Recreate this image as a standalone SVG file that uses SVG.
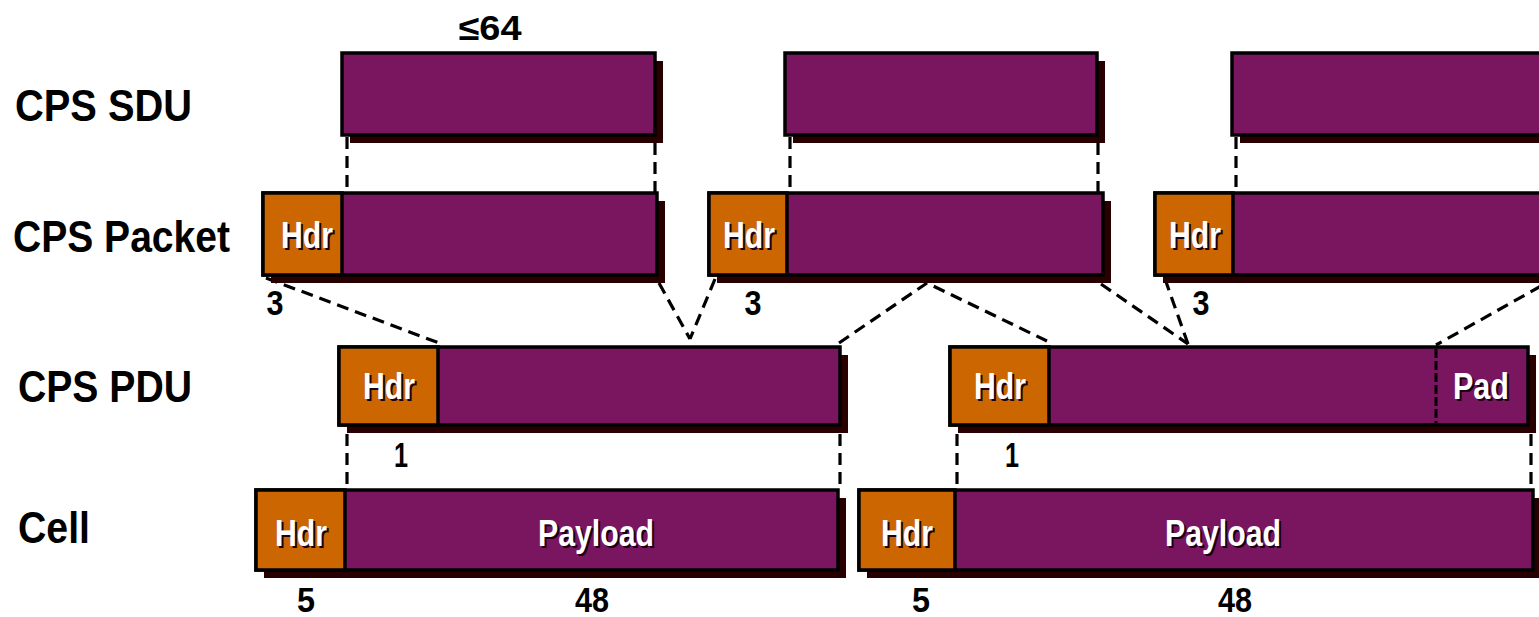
<svg xmlns="http://www.w3.org/2000/svg" width="1539" height="617" viewBox="0 0 1539 617">
<style>
.bg{fill:#ffffff}
.sh{fill:#280000}
.pl{fill:#7a1660;stroke:#000;stroke-width:3.5}
.hd{fill:#cc6600;stroke:#000;stroke-width:3.5}
.dl{fill:none;stroke:#000;stroke-width:3.2;stroke-dasharray:12 7}
.lbl{font-family:"Liberation Sans",Arial,sans-serif;font-weight:bold;font-size:45px;fill:#000}
.num{font-family:"Liberation Sans",Arial,sans-serif;font-weight:bold;font-size:35px;fill:#000;text-anchor:middle}
.in{font-family:"Liberation Sans",Arial,sans-serif;font-weight:bold;font-size:37px;fill:#fff;text-anchor:middle}
.ins{font-family:"Liberation Sans",Arial,sans-serif;font-weight:bold;font-size:37px;fill:#1a0010;text-anchor:middle}
</style>
<rect class="bg" x="0" y="0" width="1539" height="617"/>

<g id="labels">
<text class="lbl" x="15" y="121" textLength="177" lengthAdjust="spacingAndGlyphs">CPS SDU</text>
<text class="lbl" x="13" y="252" textLength="217" lengthAdjust="spacingAndGlyphs">CPS Packet</text>
<text class="lbl" x="18" y="402" textLength="174" lengthAdjust="spacingAndGlyphs">CPS PDU</text>
<text class="lbl" x="18" y="543" textLength="72" lengthAdjust="spacingAndGlyphs">Cell</text>
<text class="num" x="490" y="40" textLength="63" lengthAdjust="spacingAndGlyphs">≤64</text>
</g>

<g id="connectors">
<line class="dl" x1="347" y1="137" x2="347" y2="193"/>
<line class="dl" x1="655" y1="143" x2="655" y2="193"/>
<line class="dl" x1="790" y1="137" x2="790" y2="193"/>
<line class="dl" x1="1098" y1="143" x2="1098" y2="193"/>
<line class="dl" x1="1236" y1="137" x2="1236" y2="193"/>
<line class="dl" x1="266" y1="278" x2="439" y2="343"/>
<line class="dl" x1="659" y1="283" x2="690" y2="339"/>
<line class="dl" x1="715" y1="279" x2="690" y2="339"/>
<polyline class="dl" points="839,343 927,283 1047,341"/>
<line class="dl" x1="1101" y1="284" x2="1188" y2="344"/>
<line class="dl" x1="1165" y1="279" x2="1188" y2="344"/>
<line class="dl" x1="1541" y1="286" x2="1436" y2="345"/>
<line class="dl" x1="347" y1="434" x2="347" y2="490"/>
<line class="dl" x1="840" y1="434" x2="840" y2="490"/>
<line class="dl" x1="957" y1="434" x2="957" y2="490"/>
<line class="dl" x1="1531" y1="434" x2="1531" y2="490"/>
</g>

<g id="sdu1">
<rect class="sh" x="350" y="61" width="313" height="82"/>
<rect class="pl" x="342" y="53" width="313" height="82"/>
</g>
<g id="sdu2">
<rect class="sh" x="793" y="61" width="312" height="82"/>
<rect class="pl" x="785" y="53" width="312" height="82"/>
</g>
<g id="sdu3">
<rect class="sh" x="1240" y="61" width="320" height="82"/>
<rect class="pl" x="1232" y="53" width="320" height="82"/>
</g>

<g id="packet1">
<rect class="sh" x="271" y="201" width="394" height="82"/>
<rect class="pl" x="263" y="193" width="394" height="82"/>
<rect class="hd" x="263" y="193" width="79" height="82"/>
<text class="ins" x="309" y="250" textLength="52" lengthAdjust="spacingAndGlyphs">Hdr</text>
<text class="in" x="307" y="248" textLength="52" lengthAdjust="spacingAndGlyphs">Hdr</text>
<text class="num" x="275" y="315" textLength="17" lengthAdjust="spacingAndGlyphs">3</text>
</g>
<g id="packet2">
<rect class="sh" x="717" y="201" width="394" height="82"/>
<rect class="pl" x="709" y="193" width="394" height="82"/>
<rect class="hd" x="709" y="193" width="78" height="82"/>
<text class="ins" x="751" y="250" textLength="52" lengthAdjust="spacingAndGlyphs">Hdr</text>
<text class="in" x="749" y="248" textLength="52" lengthAdjust="spacingAndGlyphs">Hdr</text>
<text class="num" x="753" y="315" textLength="17" lengthAdjust="spacingAndGlyphs">3</text>
</g>
<g id="packet3">
<rect class="sh" x="1163" y="201" width="400" height="82"/>
<rect class="pl" x="1155" y="193" width="400" height="82"/>
<rect class="hd" x="1155" y="193" width="78" height="82"/>
<text class="ins" x="1197" y="250" textLength="52" lengthAdjust="spacingAndGlyphs">Hdr</text>
<text class="in" x="1195" y="248" textLength="52" lengthAdjust="spacingAndGlyphs">Hdr</text>
<text class="num" x="1201" y="315" textLength="17" lengthAdjust="spacingAndGlyphs">3</text>
</g>

<g id="pdu1">
<rect class="sh" x="347" y="355" width="501" height="78"/>
<rect class="pl" x="339" y="347" width="501" height="78"/>
<rect class="hd" x="339" y="347" width="99" height="78"/>
<text class="ins" x="391" y="401" textLength="52" lengthAdjust="spacingAndGlyphs">Hdr</text>
<text class="in" x="389" y="399" textLength="52" lengthAdjust="spacingAndGlyphs">Hdr</text>
<text class="num" x="401" y="467" textLength="14" lengthAdjust="spacingAndGlyphs">1</text>
</g>
<g id="pdu2">
<rect class="sh" x="958" y="355" width="578" height="78"/>
<rect class="pl" x="950" y="347" width="578" height="78"/>
<rect class="hd" x="950" y="347" width="99" height="78"/>
<line x1="1436" y1="349" x2="1436" y2="423" stroke="#000" stroke-width="3" stroke-dasharray="9 3"/>
<text class="ins" x="1002" y="401" textLength="52" lengthAdjust="spacingAndGlyphs">Hdr</text>
<text class="in" x="1000" y="399" textLength="52" lengthAdjust="spacingAndGlyphs">Hdr</text>
<text class="ins" x="1483" y="401" textLength="56" lengthAdjust="spacingAndGlyphs">Pad</text>
<text class="in" x="1481" y="399" textLength="56" lengthAdjust="spacingAndGlyphs">Pad</text>
<text class="num" x="1012" y="467" textLength="14" lengthAdjust="spacingAndGlyphs">1</text>
</g>

<g id="cell1">
<rect class="sh" x="264" y="498" width="582" height="80"/>
<rect class="pl" x="256" y="490" width="582" height="80"/>
<rect class="hd" x="256" y="490" width="89" height="80"/>
<text class="ins" x="303" y="548" textLength="52" lengthAdjust="spacingAndGlyphs">Hdr</text>
<text class="in" x="301" y="546" textLength="52" lengthAdjust="spacingAndGlyphs">Hdr</text>
<text class="ins" x="598" y="548" textLength="116" lengthAdjust="spacingAndGlyphs">Payload</text>
<text class="in" x="596" y="546" textLength="116" lengthAdjust="spacingAndGlyphs">Payload</text>
<text class="num" x="306" y="612" textLength="18" lengthAdjust="spacingAndGlyphs">5</text>
<text class="num" x="592" y="612" textLength="34" lengthAdjust="spacingAndGlyphs">48</text>
</g>
<g id="cell2">
<rect class="sh" x="867" y="498" width="674" height="80"/>
<rect class="pl" x="859" y="490" width="674" height="80"/>
<rect class="hd" x="859" y="490" width="96" height="80"/>
<text class="ins" x="909" y="548" textLength="52" lengthAdjust="spacingAndGlyphs">Hdr</text>
<text class="in" x="907" y="546" textLength="52" lengthAdjust="spacingAndGlyphs">Hdr</text>
<text class="ins" x="1225" y="548" textLength="116" lengthAdjust="spacingAndGlyphs">Payload</text>
<text class="in" x="1223" y="546" textLength="116" lengthAdjust="spacingAndGlyphs">Payload</text>
<text class="num" x="921" y="612" textLength="18" lengthAdjust="spacingAndGlyphs">5</text>
<text class="num" x="1235" y="612" textLength="34" lengthAdjust="spacingAndGlyphs">48</text>
</g>
</svg>
